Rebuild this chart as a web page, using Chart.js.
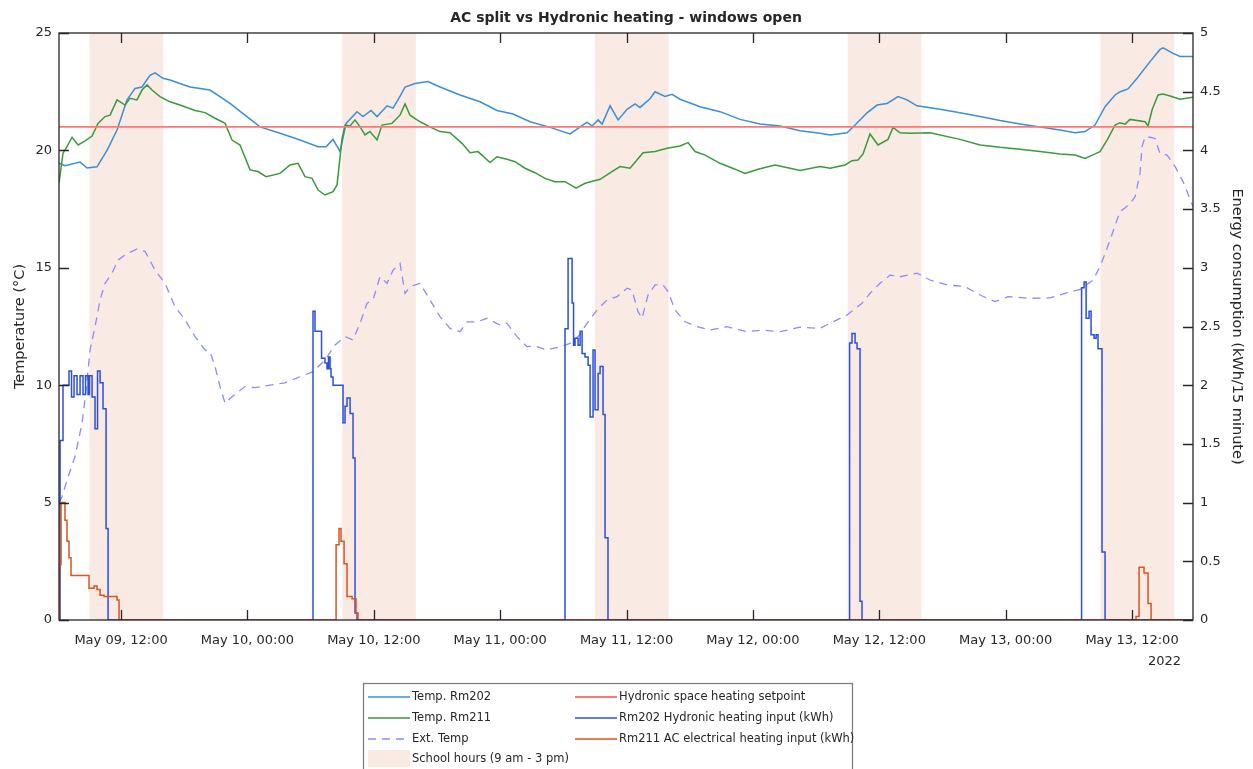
<!DOCTYPE html>
<html>
<head>
<meta charset="utf-8">
<script src="https://cdn.jsdelivr.net/npm/chart.js@4.4.1/dist/chart.umd.min.js"></script>
<style>
html,body{margin:0;padding:0;background:#ffffff;overflow:hidden;}
#wrap{width:1253px;height:769px;position:relative;}
</style>
</head>
<body>
<div id="wrap"><canvas id="c" width="1253" height="769"></canvas></div>
<script>
// ---------------- data (x = hours since May 09 00:00, 2022) ----------------
const chartTitle = 'AC split vs Hydronic heating - windows open';
const xMin = 6.11, xMax = 113.79;
const xTickHours  = [12, 24, 36, 48, 60, 72, 84, 96, 108];
const xTickLabels = ['May 09, 12:00','May 10, 00:00','May 10, 12:00','May 11, 00:00','May 11, 12:00','May 12, 00:00','May 12, 12:00','May 13, 00:00','May 13, 12:00'];
const yearLabel = '2022';
const tempTicks   = [0, 5, 10, 15, 20, 25];
const energyTicks = [0, 0.5, 1, 1.5, 2, 2.5, 3, 3.5, 4, 4.5, 5];

const schoolStart = [9, 33, 57, 81, 105];
const schoolEnd   = [16, 40, 64, 88, 112];

const setpointValue = 21;

const rm202Hours = [6.11,6.68,8.11,8.77,9.72,10.67,11.62,12.57,13.33,13.99,14.75,15.23,15.99,16.65,18.55,20.45,22.35,23.77,25.20,27.10,29.00,30.71,31.47,32.13,32.80,33.37,34.41,34.98,35.74,36.31,37.26,37.83,38.49,38.97,39.92,41.15,42.29,44.19,46.09,47.70,49.22,50.84,52.74,54.64,55.40,56.25,56.73,57.30,57.68,58.44,59.20,60.05,60.81,61.28,62.23,62.71,63.66,64.32,65.08,66.98,68.88,70.78,72.68,74.58,76.48,78.37,79.32,80.94,81.70,82.84,83.79,84.74,85.78,86.64,87.58,89.77,91.67,93.57,95.47,97.37,99.27,101.17,102.59,103.54,104.49,105.44,106.39,106.87,107.62,108.48,109.71,110.66,110.95,111.90,112.56,113.79];
const rm202Temp  = [19.46,19.35,19.5,19.25,19.3,20.0,20.87,22.15,22.64,22.7,23.2,23.3,23.07,23.0,22.7,22.57,22.0,21.5,21.0,20.73,20.44,20.16,20.16,20.47,19.95,21.15,21.65,21.44,21.7,21.44,21.9,21.8,22.3,22.7,22.85,22.93,22.7,22.36,22.07,21.7,21.55,21.22,20.98,20.7,20.94,21.2,21.04,21.3,21.12,21.9,21.3,21.75,21.98,21.83,22.2,22.5,22.3,22.39,22.18,21.86,21.65,21.32,21.12,21.04,20.84,20.73,20.66,20.75,21.08,21.6,21.93,22.0,22.29,22.15,21.9,21.75,21.6,21.44,21.27,21.12,21.0,20.87,20.75,20.8,21.08,21.86,22.36,22.5,22.62,23.07,23.78,24.3,24.37,24.13,24.0,24.0];

const rm211Hours = [6.11,6.49,6.87,7.35,7.92,8.58,9.25,9.82,10.48,10.96,11.62,12.38,12.85,13.52,13.99,14.47,14.94,15.70,16.65,17.60,19.03,19.98,20.93,21.88,22.54,23.30,24.25,25.01,25.77,27.10,28.05,28.81,29.47,30.14,30.71,31.37,32.13,32.51,32.99,33.27,33.75,34.22,34.70,35.17,35.64,36.31,36.78,37.73,38.49,38.97,39.44,40.39,41.34,42.29,43.24,44.38,45.14,45.90,47.04,47.70,48.65,49.41,50.36,51.31,52.26,53.21,54.16,55.21,56.06,57.49,58.62,59.38,60.33,61.57,62.71,63.85,65.08,65.84,66.51,67.46,68.88,70.30,71.25,72.49,74.10,75.53,76.48,78.38,79.33,80.75,81.41,81.98,82.46,83.12,83.88,84.83,85.31,85.97,86.92,88.82,91.67,93.57,95.47,97.37,99.27,101.17,102.59,103.54,104.49,104.96,105.63,106.39,106.86,107.34,107.81,109.24,109.52,109.90,110.47,110.95,111.61,112.56,113.79];
const rm211Temp  = [18.6,19.88,20.16,20.56,20.23,20.41,20.61,21.15,21.44,21.5,22.15,21.93,22.22,22.15,22.57,22.79,22.57,22.29,22.07,21.93,21.7,21.61,21.37,21.15,20.44,20.23,19.17,19.1,18.88,19.02,19.38,19.45,18.88,18.81,18.31,18.1,18.24,18.53,20.51,21.08,21.04,21.3,21.0,20.66,20.8,20.44,21.08,21.15,21.5,21.98,21.5,21.22,21.0,20.8,20.75,20.3,19.9,19.95,19.48,19.73,19.62,19.52,19.24,19.05,18.81,18.67,18.67,18.39,18.6,18.77,19.1,19.31,19.24,19.9,19.95,20.09,20.19,20.33,19.95,19.8,19.45,19.2,19.02,19.2,19.38,19.24,19.14,19.31,19.24,19.38,19.56,19.59,19.85,20.7,20.23,20.47,20.98,20.75,20.73,20.75,20.47,20.23,20.13,20.05,19.95,19.85,19.8,19.66,19.85,19.95,20.44,21.08,21.18,21.12,21.32,21.22,21.04,21.72,22.36,22.4,22.32,22.18,22.26];

const extHours = [6.11,6.40,6.87,7.63,8.30,8.68,9.06,9.53,10.01,10.48,11.15,11.71,12.38,13.52,14.28,15.23,16.18,17.13,18.08,19.03,19.98,20.45,20.93,21.40,21.88,22.54,23.77,24.72,26.15,27.57,29.00,30.23,31.37,32.32,33.27,34.03,34.70,35.36,35.93,36.59,37.26,37.83,38.49,38.97,39.44,40.39,41.34,42.29,43.24,44.19,44.86,45.81,46.76,47.99,48.65,49.60,50.55,51.31,52.45,53.69,54.64,55.40,56.35,57.20,58.15,59.10,60.05,60.52,61.09,61.47,62.04,62.71,63.47,63.94,64.61,65.56,66.70,67.93,69.54,71.44,72.96,74.58,76.48,78.38,79.33,80.94,82.36,83.12,84.07,85.02,85.97,87.59,88.82,90.44,92.14,93.57,94.99,96.23,98.32,100.22,101.64,103.07,104.30,104.96,105.53,106.58,106.86,107.81,108.29,108.76,108.95,109.24,109.71,110.19,110.66,111.33,112.09,112.85,113.79];
const extTemp  = [5.0,5.25,5.96,6.96,8.38,9.8,11.5,12.49,13.63,14.34,14.77,15.33,15.55,15.8,15.7,14.9,14.34,13.34,12.78,12.07,11.5,11.43,10.79,9.94,9.23,9.51,9.94,9.9,10.0,10.1,10.36,10.58,11.07,11.71,12.07,11.93,12.64,13.49,13.63,14.62,14.34,14.9,15.19,13.91,14.2,14.34,13.63,12.92,12.42,12.28,12.7,12.7,12.85,12.56,12.64,12.07,11.64,11.67,11.5,11.64,11.78,12.07,12.7,13.2,13.63,13.77,14.13,14.05,13.13,12.85,13.84,14.27,14.27,13.98,13.2,12.7,12.49,12.35,12.49,12.28,12.35,12.28,12.47,12.42,12.64,12.99,13.49,13.91,14.34,14.69,14.62,14.77,14.48,14.27,14.2,13.84,13.56,13.77,13.7,13.72,13.91,14.08,14.48,15.05,15.7,17.04,17.39,17.72,18.03,19.02,20.16,20.58,20.56,20.51,19.85,19.8,19.31,18.67,17.6];

// step series (value holds from this hour until the next one), energy kWh / 15 min
const hydroHours  = [6.11,6.21,6.49,7.06,7.30,7.54,7.82,8.11,8.39,8.63,8.87,9.01,9.25,9.53,9.77,10.01,10.29,10.58,10.77,30.23,30.42,31.04,31.37,31.56,31.70,31.85,31.94,32.13,33.08,33.27,33.46,33.75,34.03,34.22,34.41,54.16,54.45,54.83,54.97,55.11,55.40,55.59,55.78,56.06,56.35,56.54,56.82,57.01,57.30,57.49,57.77,57.96,58.24,81.18,81.41,81.70,81.89,82.17,82.36,103.21,103.45,103.64,103.92,104.11,104.40,104.59,104.77,105.15,105.44,113.79];
const hydroEnergy = [0,1.53,2.0,2.12,1.9,2.08,1.92,2.08,1.92,2.08,1.92,2.08,1.9,1.63,2.12,2.02,1.8,0.78,0,2.63,2.46,2.23,2.19,2.14,2.24,2.14,2.07,2.0,1.68,1.82,1.89,1.76,1.38,0.06,0,2.48,3.08,2.7,2.34,2.4,2.34,2.46,2.27,2.24,2.17,1.73,2.3,1.79,2.1,2.16,1.75,0.7,0,2.36,2.44,2.36,2.31,0.16,0,2.83,2.88,2.57,2.63,2.43,2.4,2.43,2.31,0.58,0,0];

const acHours  = [6.11,6.16,6.30,6.68,6.87,7.06,7.25,8.96,9.44,9.72,10.01,10.39,11.62,11.81,32.42,32.70,32.89,33.18,33.46,33.94,34.31,34.50,108.38,108.67,109.14,109.52,109.81,113.79];
const acEnergy = [0,0.47,1.0,0.85,0.67,0.53,0.38,0.27,0.29,0.26,0.21,0.2,0.17,0,0.64,0.78,0.67,0.48,0.2,0.18,0.06,0,0.03,0.45,0.4,0.14,0,0];

// ---------------- chart ----------------
const FONT = "'DejaVu Sans', 'Liberation Sans', sans-serif";
const INK = '#262626';
const zip = (xs, ys) => xs.map((x, i) => ({x, y: ys[i]}));

const cols = {
  rm202: '#3a8fd6',
  rm211: '#3a9a3a',
  ext: '#8a8aff',
  setpoint: '#ff7777',
  hydro: '#2b4fdc',
  ac: '#d9541e',
  school: '#faeae4'
};

const datasets = [
  {label:'Rm211 AC electrical heating input (kWh)', data: zip(acHours, acEnergy), yAxisID:'y2', stepped:'before', borderColor: cols.ac, borderWidth:1.5, order:1, legendCol:1, legendRow:2},
  {label:'Rm202 Hydronic heating input (kWh)', data: zip(hydroHours, hydroEnergy), yAxisID:'y2', stepped:'before', borderColor: cols.hydro, borderWidth:1.5, order:2, legendCol:1, legendRow:1},
  {label:'Ext. Temp', data: zip(extHours, extTemp), yAxisID:'y', borderColor: cols.ext, borderWidth:1.3, borderDash:[8,6], order:3, legendCol:0, legendRow:2},
  {label:'Hydronic space heating setpoint', data: [{x:xMin, y:setpointValue},{x:xMax, y:setpointValue}], yAxisID:'y', borderColor: cols.setpoint, borderWidth:1.8, order:4, legendCol:1, legendRow:0},
  {label:'Temp. Rm211', data: zip(rm211Hours, rm211Temp), yAxisID:'y', borderColor: cols.rm211, borderWidth:1.5, order:5, legendCol:0, legendRow:1},
  {label:'Temp. Rm202', data: zip(rm202Hours, rm202Temp), yAxisID:'y', borderColor: cols.rm202, borderWidth:1.5, order:6, legendCol:0, legendRow:0}
];
datasets.forEach(d => { d.pointRadius = 0; d.fill = false; d.tension = 0; d.backgroundColor = d.borderColor; });

const schoolLabel = 'School hours (9 am - 3 pm)';

const decor = {
  id: 'decor',
  beforeDatasetsDraw(chart) {
    const {ctx, chartArea: a, scales: {x}} = chart;
    ctx.save();
    ctx.fillStyle = cols.school;
    for (let i = 0; i < schoolStart.length; i++) {
      const x0 = x.getPixelForValue(schoolStart[i]);
      const x1 = x.getPixelForValue(schoolEnd[i]);
      ctx.fillRect(x0, a.top, x1 - x0, a.bottom - a.top);
    }
    ctx.restore();
  },
  afterDraw(chart) {
    const {ctx, chartArea: a, scales: {x, y, y2}} = chart;
    ctx.save();
    // frame
    ctx.strokeStyle = INK;
    ctx.lineWidth = 1.3;
    ctx.strokeRect(a.left, a.top, a.right - a.left, a.bottom - a.top);
    const TL = 10;
    ctx.beginPath();
    x.ticks.forEach(t => {
      const px = Math.round(x.getPixelForValue(t.value)) + 0.5;
      ctx.moveTo(px, a.bottom); ctx.lineTo(px, a.bottom - TL);
      ctx.moveTo(px, a.top); ctx.lineTo(px, a.top + TL);
    });
    y.ticks.forEach(t => {
      const py = Math.round(y.getPixelForValue(t.value)) + 0.5;
      ctx.moveTo(a.left, py); ctx.lineTo(a.left + TL, py);
    });
    y2.ticks.forEach(t => {
      const py = Math.round(y2.getPixelForValue(t.value)) + 0.5;
      ctx.moveTo(a.right, py); ctx.lineTo(a.right - TL, py);
    });
    ctx.stroke();

    // year label under last tick
    ctx.fillStyle = INK;
    ctx.font = '13px ' + FONT;
    ctx.textAlign = 'right';
    ctx.textBaseline = 'middle';
    ctx.fillText(yearLabel, x.getPixelForValue(xTickHours[xTickHours.length - 1]) + 49, 662);

    // title
    ctx.font = 'bold 14px ' + FONT;
    ctx.textAlign = 'center';
    ctx.fillText(chartTitle, (a.left + a.right) / 2, 18);

    // legend
    const bx = 363, by = 683, bw = 489;
    ctx.fillStyle = '#ffffff';
    ctx.fillRect(bx, by, bw, 120);
    ctx.strokeStyle = '#7a7a7a';
    ctx.lineWidth = 1.2;
    ctx.strokeRect(bx + 0.5, by + 0.5, bw, 120);
    const colX = [368, 575], lineW = 42, rowY = [697, 718, 739, 759];
    ctx.font = '11.5px ' + FONT;
    ctx.textAlign = 'left';
    ctx.textBaseline = 'middle';
    chart.data.datasets.forEach(d => {
      const lx = colX[d.legendCol], ly = rowY[d.legendRow];
      ctx.strokeStyle = d.borderColor;
      ctx.lineWidth = d.borderWidth;
      ctx.setLineDash(d.borderDash || []);
      ctx.beginPath(); ctx.moveTo(lx, ly); ctx.lineTo(lx + lineW, ly); ctx.stroke();
      ctx.setLineDash([]);
      ctx.fillStyle = INK;
      ctx.fillText(d.label, lx + lineW + 2, ly);
    });
    ctx.fillStyle = cols.school;
    ctx.fillRect(colX[0], rowY[3] - 9, lineW, 17);
    ctx.fillStyle = INK;
    ctx.fillText(schoolLabel, colX[0] + lineW + 2, rowY[3]);
    ctx.restore();
  }
};

new Chart(document.getElementById('c'), {
  type: 'line',
  data: { datasets },
  options: {
    responsive: false,
    animation: false,
    devicePixelRatio: 1,
    parsing: true,
    layout: { padding: { top: 33, left: 0, right: 0, bottom: 0 } },
    plugins: { legend: { display: false }, tooltip: { enabled: false }, title: { display: false } },
    scales: {
      x: {
        type: 'linear', min: xMin, max: xMax, position: 'bottom',
        afterBuildTicks: s => { s.ticks = xTickHours.map(v => ({ value: v })); },
        afterFit: s => { s.height = 149; },
        ticks: { autoSkip: false, maxRotation: 0, padding: 13, color: INK, font: { family: FONT, size: 13 },
                 callback: v => xTickLabels[xTickHours.indexOf(v)] },
        grid: { display: false, drawTicks: false },
        border: { display: false }
      },
      y: {
        type: 'linear', position: 'left', min: 0, max: 25,
        afterBuildTicks: s => { s.ticks = tempTicks.map(v => ({ value: v })); },
        afterFit: s => { s.width = 59; },
        ticks: { padding: 7, color: INK, font: { family: FONT, size: 13 }, callback: v => String(v) },
        grid: { display: false, drawTicks: false },
        border: { display: false },
        title: { display: true, text: 'Temperature (°C)', color: INK, font: { family: FONT, size: 14.5 }, padding: { top: 12, bottom: 0 } }
      },
      y2: {
        type: 'linear', position: 'right', min: 0, max: 5,
        afterBuildTicks: s => { s.ticks = energyTicks.map(v => ({ value: v })); },
        afterFit: s => { s.width = 60; },
        ticks: { padding: 7, color: INK, font: { family: FONT, size: 13 }, callback: v => String(v) },
        grid: { display: false, drawTicks: false },
        border: { display: false },
        title: { display: true, text: 'Energy consumption (kWh/15 minute)', color: INK, font: { family: FONT, size: 14.5 }, padding: { top: 8, bottom: 0 } }
      }
    }
  },
  plugins: [decor]
});
</script>
</body>
</html>
